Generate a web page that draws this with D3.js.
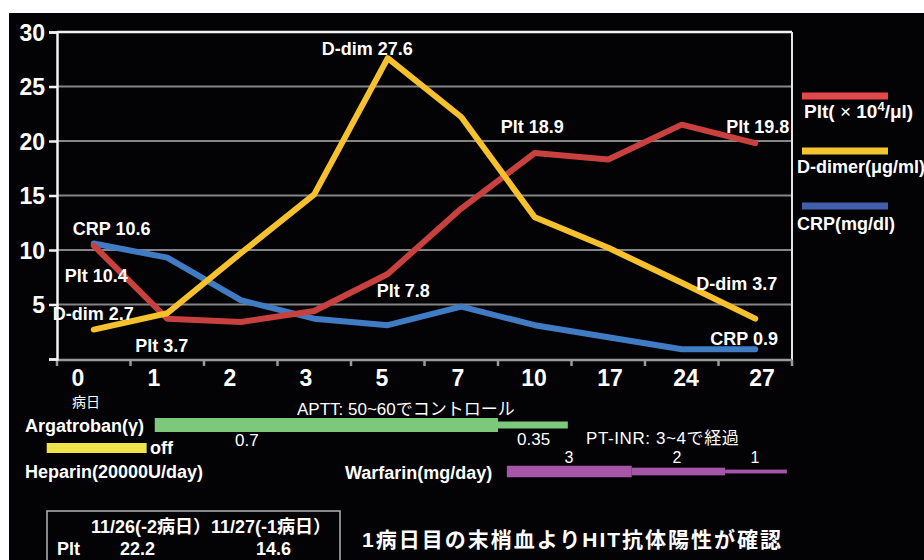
<!DOCTYPE html>
<html><head><meta charset="utf-8">
<script src="https://cdn.jsdelivr.net/npm/d3@7"></script>
<style>
body{margin:0;background:#fff}
svg{display:block}
text{font-family:"Liberation Sans","Noto Sans CJK JP",sans-serif;fill:#fff}
</style>
</head><body>
<svg id="c" width="924" height="560"></svg>
<script>
// ---------- data ----------
const days = ["0","1","2","3","5","7","10","17","24","27"];
const plt = [10.4, 3.7, 3.4, 4.4, 7.8, 13.8, 18.9, 18.3, 21.5, 19.8];
const ddimer = [2.7, 4.2, 9.7, 15.1, 27.6, 22.2, 13.0, 10.2, 7.0, 3.7];
const crp = [10.6, 9.3, 5.4, 3.7, 3.1, 4.8, 3.1, 2.0, 0.9, 0.9];
const yTicks = [0, 5, 10, 15, 20, 25, 30];
const seriesNames = ["Plt", "D-dimer(μg/ml)", "CRP(mg/dl)"];
// annotations: series, point index, text
const annotations = [
  {s:1, i:4, t:"D-dim 27.6"},
  {s:0, i:6, t:"Plt 18.9"},
  {s:0, i:9, t:"Plt 19.8"},
  {s:2, i:0, t:"CRP 10.6"},
  {s:0, i:0, t:"Plt 10.4"},
  {s:1, i:0, t:"D-dim 2.7"},
  {s:0, i:1, t:"Plt 3.7"},
  {s:0, i:4, t:"Plt 7.8"},
  {s:1, i:9, t:"D-dim 3.7"},
  {s:2, i:9, t:"CRP 0.9"}
];
// treatment schedules (position in category units, dose)
const argatroban = [{from:1.33, to:6.0, dose:0.7}, {from:6.0, to:6.95, dose:0.35}];
const heparin = [{from:-0.14, to:1.22}];
const warfarin = [{from:6.12, to:7.82, dose:3}, {from:7.82, to:9.09, dose:2}, {from:9.09, to:9.93, dose:1}];
const tableHeader = "11/26(-2病日）11/27(-1病日）";
const tableRow = ["Plt", "22.2", "14.6"];

// ---------- layout ----------
const L = 57, R = 792, T = 32, B = 359;
const annOffsets = [[-66,-3],[-34,-20],[-29,-10],[-21,-8],[-29,36],[-41,-10],[-32,33],[-11,23],[-59,-29],[-45,-4]];
const lineColors = ["#c8413f", "#f7c12e", "#3f7cc4"];
const legendColors = ["#e6474b", "#f3c52f", "#4060ae"];

const svg = d3.select("#c");
svg.append("rect").attr("x",9).attr("y",13).attr("width",915).attr("height",547).attr("fill","#030204");

const x = d3.scaleBand().domain(d3.range(days.length)).range([L, R]);
const xc = i => x(i) + x.bandwidth()/2;
const xu = d3.scaleLinear().domain([0, days.length]).range([L, R]);
const y = d3.scaleLinear().domain([0, 30]).range([B, T]);

// gridlines
svg.append("g").selectAll("line").data(yTicks.filter(v => v > 0 && v < 30)).join("line")
  .attr("x1", L).attr("x2", R).attr("y1", d => y(d)).attr("y2", d => y(d))
  .attr("stroke", "#858585").attr("stroke-width", 2);

// top & right border
svg.append("line").attr("x1", L).attr("x2", R).attr("y1", y(30)).attr("y2", y(30)).attr("stroke","#f2f2f2").attr("stroke-width",2.5);
svg.append("line").attr("x1", R).attr("x2", R).attr("y1", y(30)).attr("y2", B+7).attr("stroke","#e6e6e6").attr("stroke-width",2);

// x axis
const gx = svg.append("g").attr("transform", `translate(0,${B+1})`);
gx.append("line").attr("x1", L).attr("x2", R).attr("stroke", "#9a9a9a").attr("stroke-width", 2.5);
gx.selectAll(".tk").data(d3.range(days.length + 1)).join("line")
  .attr("x1", d => xu(d)).attr("x2", d => xu(d)).attr("y1", 0).attr("y2", 6)
  .attr("stroke", "#9a9a9a").attr("stroke-width", 2.5);
const xl = d3.scalePoint().domain(d3.range(days.length)).range([78, 762]);
gx.selectAll("text").data(days).join("text")
  .attr("x", (d, i) => xl(i)).attr("y", 26).attr("text-anchor", "middle")
  .attr("font-size", 23).attr("font-weight", "bold").text(d => d);

// y axis
const yAxis = d3.axisLeft(y).tickValues(yTicks).tickSize(8).tickPadding(4).tickFormat(d => d === 0 ? "" : d);
const gy = svg.append("g").attr("transform", `translate(${L},0)`).call(yAxis);
gy.select(".domain").attr("stroke", "#f2f2f2").attr("stroke-width", 2.5);
gy.selectAll(".tick line").attr("stroke", "#f2f2f2").attr("stroke-width", 2.5);
gy.selectAll(".tick text").attr("fill", "#fff").attr("font-size", 23).attr("font-weight", "bold")
  .attr("font-family", "Liberation Sans").attr("dy", "0.35em");

// lines
const series = [plt, ddimer, crp];
const line = d3.line().x((d, i) => xc(i)).y(d => y(d));
[2, 0, 1].forEach(s => {
  svg.append("path").datum(series[s]).attr("d", line)
    .attr("fill", "none").attr("stroke", lineColors[s]).attr("stroke-width", 6)
    .attr("stroke-linejoin", "round").attr("stroke-linecap", "round");
});

// annotations
svg.append("g").selectAll("text").data(annotations).join("text")
  .attr("x", (d, k) => xc(d.i) + annOffsets[k][0])
  .attr("y", (d, k) => y(series[d.s][d.i]) + annOffsets[k][1])
  .attr("font-size", 18).attr("font-weight", "bold").text(d => d.t);

// legend
const lg = svg.append("g");
[96, 151, 206].forEach((ly, k) => {
  lg.append("rect").attr("x", 802).attr("y", ly - 3.5).attr("width", 86).attr("height", 7).attr("fill", legendColors[k]);
});
const t0 = lg.append("text").attr("x", 804).attr("y", 118).attr("font-size", 19).attr("font-weight", "bold");
t0.append("tspan").text("Plt(");
t0.append("tspan").attr("font-weight", "normal").text(" × ");
t0.append("tspan").text("10");
t0.append("tspan").attr("font-size", 13).attr("dy", -7).text("4");
t0.append("tspan").attr("dy", 7).text("/μl)");
lg.append("text").attr("x", 797).attr("y", 173).attr("font-size", 18).attr("font-weight", "bold").text(seriesNames[1]);
lg.append("text").attr("x", 797).attr("y", 230).attr("font-size", 18).attr("font-weight", "bold").text(seriesNames[2]);

// ---------- treatments ----------
const tg = svg.append("g");
tg.append("text").attr("x", 72).attr("y", 407).attr("font-size", 14).attr("font-family","Noto Sans CJK JP").text("病日");
tg.append("text").attr("x", 25).attr("y", 432).attr("font-size", 18).attr("font-weight", "bold").text("Argatroban(γ)");
tg.append("text").attr("x", 297).attr("y", 415).attr("font-size", 17).text("APTT: 50~60でコントロール");
const hA = d3.scaleLinear().domain([0, 0.7]).range([0, 14]);
tg.selectAll(".arg").data(argatroban).join("rect")
  .attr("x", d => xu(d.from)).attr("width", d => xu(d.to) - xu(d.from))
  .attr("y", d => 425 - hA(d.dose)/2).attr("height", d => hA(d.dose)).attr("fill", "#7cc97c");
tg.append("text").attr("x", 235).attr("y", 446).attr("font-size", 17).text("0.7");
tg.append("text").attr("x", 517).attr("y", 445).attr("font-size", 17).text("0.35");

tg.selectAll(".hep").data(heparin).join("rect")
  .attr("x", d => xu(d.from)).attr("width", d => xu(d.to) - xu(d.from))
  .attr("y", 443).attr("height", 10).attr("fill", "#efe54a");
tg.append("text").attr("x", 150).attr("y", 454).attr("font-size", 18).attr("font-weight", "bold").text("off");
tg.append("text").attr("x", 25).attr("y", 478).attr("font-size", 18).attr("font-weight", "bold").text("Heparin(20000U/day)");

tg.append("text").attr("x", 586).attr("y", 444).attr("font-size", 17).attr("letter-spacing", 0.6).text("PT-INR: 3~4で経過");
tg.append("text").attr("x", 345).attr("y", 479).attr("font-size", 18).attr("font-weight", "bold").text("Warfarin(mg/day)");
const hW = d3.scaleLinear().domain([0, 3]).range([0, 11.5]);
tg.selectAll(".war").data(warfarin).join("rect")
  .attr("x", d => xu(d.from)).attr("width", d => xu(d.to) - xu(d.from))
  .attr("y", d => 471.5 - hW(d.dose)/2).attr("height", d => hW(d.dose)).attr("fill", "#a656a6");
const doseX = [569, 677, 755];
tg.selectAll(".wd").data(warfarin).join("text")
  .attr("x", (d, k) => doseX[k]).attr("y", 463).attr("text-anchor", "middle").attr("font-size", 16).text(d => d.dose);

// ---------- table ----------
svg.append("rect").attr("x", 47).attr("y", 511).attr("width", 293).attr("height", 70)
  .attr("fill", "none").attr("stroke", "#b5b5b5").attr("stroke-width", 1.5);
svg.append("text").attr("x", 91).attr("y", 533).attr("font-size", 18).attr("font-weight", "bold").text(tableHeader);
const rowX = [57, 120, 256];
svg.selectAll(".row").data(tableRow).join("text")
  .attr("x", (d, k) => rowX[k]).attr("y", 555).attr("font-size", 18).attr("font-weight", "bold").text(d => d);

svg.append("text").attr("x", 362).attr("y", 547).attr("font-size", 21).attr("font-weight", "bold")
  .attr("letter-spacing", 2).text("1病日目の末梢血よりHIT抗体陽性が確認");
</script>
</body></html>
